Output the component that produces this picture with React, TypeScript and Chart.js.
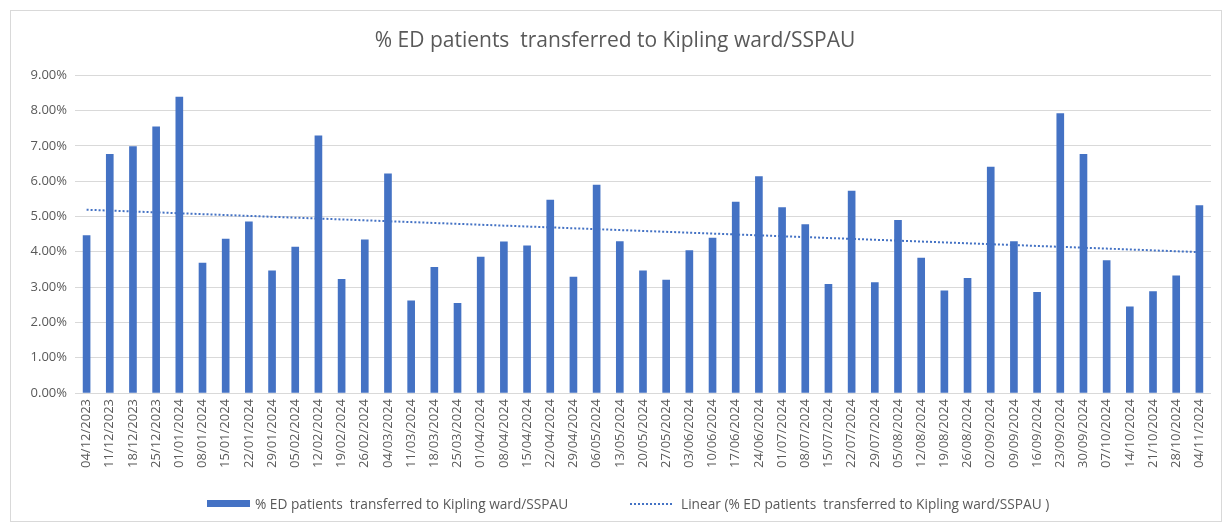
import React, { useEffect, useRef } from "react";
import { Chart, registerables } from "chart.js";

Chart.register(...registerables);

const TITLE = "% ED patients  transferred to Kipling ward/SSPAU";
const BAR_LABEL = "% ED patients  transferred to Kipling ward/SSPAU";
const TREND_LABEL = "Linear (% ED patients  transferred to Kipling ward/SSPAU )";

const weeks = [
  "04/12/2023", "11/12/2023", "18/12/2023", "25/12/2023", "01/01/2024", "08/01/2024", "15/01/2024",
  "22/01/2024", "29/01/2024", "05/02/2024", "12/02/2024", "19/02/2024", "26/02/2024", "04/03/2024",
  "11/03/2024", "18/03/2024", "25/03/2024", "01/04/2024", "08/04/2024", "15/04/2024", "22/04/2024",
  "29/04/2024", "06/05/2024", "13/05/2024", "20/05/2024", "27/05/2024", "03/06/2024", "10/06/2024",
  "17/06/2024", "24/06/2024", "01/07/2024", "08/07/2024", "15/07/2024", "22/07/2024", "29/07/2024",
  "05/08/2024", "12/08/2024", "19/08/2024", "26/08/2024", "02/09/2024", "09/09/2024", "16/09/2024",
  "23/09/2024", "30/09/2024", "07/10/2024", "14/10/2024", "21/10/2024", "28/10/2024", "04/11/2024",
];

const pctTransferred = [
  4.46, 6.76, 6.98, 7.54, 8.38, 3.68, 4.36, 4.85, 3.46, 4.13, 7.28, 3.22, 4.34, 6.21,
  2.61, 3.56, 2.54, 3.85, 4.28, 4.17, 5.46, 3.28, 5.89, 4.29, 3.46, 3.20, 4.03, 4.39,
  5.41, 6.13, 5.25, 4.77, 3.08, 5.72, 3.13, 4.89, 3.82, 2.89, 3.25, 6.40, 4.29, 2.85,
  7.91, 6.76, 3.75, 2.44, 2.87, 3.32, 5.31,
];

const yTicks = [0, 1, 2, 3, 4, 5, 6, 7, 8, 9];

function linearTrend(values: number[]): number[] {
  const n = values.length;
  let sx = 0, sy = 0, sxy = 0, sxx = 0;
  values.forEach((v, i) => {
    const x = i + 1;
    sx += x; sy += v; sxy += x * v; sxx += x * x;
  });
  const slope = (n * sxy - sx * sy) / (n * sxx - sx * sx);
  const intercept = (sy - slope * sx) / n;
  return values.map((_, i) => intercept + slope * (i + 1));
}

const BLUE = "#4472C4";
const GREY_TEXT = "#595959";
const FONT = "'Open Sans', 'Noto Sans', sans-serif";

export default function App() {
  const canvasRef = useRef<HTMLCanvasElement | null>(null);

  useEffect(() => {
    const canvas = canvasRef.current;
    if (!canvas) return;
    const chart = new Chart(canvas, {
      type: "bar",
      data: {
        labels: weeks,
        datasets: [
          {
            type: "bar",
            label: BAR_LABEL,
            data: pctTransferred,
            backgroundColor: BLUE,
            borderWidth: 0,
            barThickness: 7,
            order: 2,
          },
          {
            type: "line",
            label: TREND_LABEL,
            data: linearTrend(pctTransferred),
            borderColor: BLUE,
            borderWidth: 2,
            borderDash: [2, 2],
            pointRadius: 0,
            fill: false,
            order: 1,
          },
        ],
      },
      options: {
        responsive: false,
        animation: false,
        layout: { padding: { left: 0, right: 2, top: 0, bottom: 39 } },
        plugins: {
          legend: { display: false },
          tooltip: { enabled: false },
          title: {
            display: true,
            text: TITLE,
            color: GREY_TEXT,
            font: { family: FONT, size: 21, weight: "normal" },
            padding: { top: 17, bottom: 22 },
          },
        },
        scales: {
          x: {
            grid: { display: false, drawTicks: false },
            border: { color: "#d9d9d9", width: 1 },
            ticks: {
              color: GREY_TEXT,
              font: { family: FONT, size: 13 },
              maxRotation: 90,
              minRotation: 90,
              autoSkip: false,
              padding: 6,
            },
            afterFit: (scale: any) => {
              scale.height = 89;
            },
          },
          y: {
            min: 0,
            max: 9,
            afterBuildTicks: (scale: any) => {
              scale.ticks = yTicks.map((v) => ({ value: v }));
            },
            grid: { color: "#d9d9d9", drawTicks: false },
            border: { display: false },
            ticks: {
              color: GREY_TEXT,
              font: { family: FONT, size: 13 },
              padding: 8,
              callback: (v: any) => Number(v).toFixed(2) + "%",
            },
            afterFit: (scale: any) => {
              scale.width = 64;
            },
          },
        },
      },
    });
    return () => chart.destroy();
  }, []);

  const legendText: React.CSSProperties = {
    fontFamily: FONT,
    fontSize: 13.7,
    color: GREY_TEXT,
    whiteSpace: "pre",
  };

  return (
    <div
      style={{
        position: "absolute",
        left: 10,
        top: 10,
        width: 1210,
        height: 510,
        border: "1px solid #d9d9d9",
        background: "#fff",
      }}
    >
      <canvas ref={canvasRef} width={1210} height={510} style={{ display: "block" }} />
      <div
        style={{
          position: "absolute",
          top: 483,
          left: 196,
          display: "flex",
          alignItems: "center",
          ...legendText,
        }}
      >
        <span style={{ display: "inline-block", width: 43, height: 7, background: BLUE, marginRight: 5 }} />
        <span>{BAR_LABEL}</span>
      </div>
      <div
        style={{
          position: "absolute",
          top: 483,
          left: 619,
          display: "flex",
          alignItems: "center",
          ...legendText,
        }}
      >
        <span
          style={{
            display: "inline-block",
            width: 42,
            height: 0,
            borderTop: `2px dotted ${BLUE}`,
            marginRight: 9,
          }}
        />
        <span>{TREND_LABEL}</span>
      </div>
    </div>
  );
}
